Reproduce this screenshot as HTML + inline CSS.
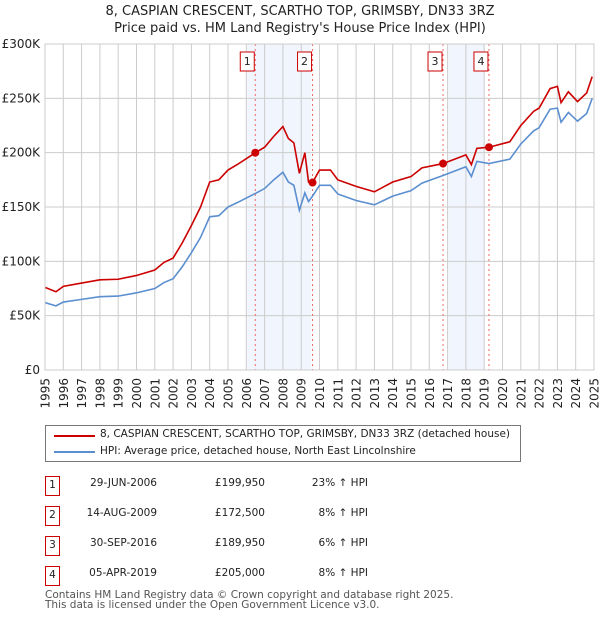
<!DOCTYPE html>
<html><head><meta charset="utf-8"><style>
body{margin:0;width:600px;height:620px;background:#fff;font-family:"DejaVu Sans","Liberation Sans",sans-serif;color:#222;position:relative;overflow:hidden}
.t{position:absolute;left:0;width:600px;text-align:center;font-size:13px}
.leg{position:absolute;left:45px;top:425px;width:474px;height:35px;border:1px solid #777;font-size:10.5px;white-space:nowrap}
.row{position:absolute;font-size:10.5px;text-align:right;width:120px}
.num{position:absolute;left:45px;width:13px;height:18px;border:1px solid #c00;text-align:center;line-height:17px;font-size:10.5px}
.foot{position:absolute;left:45px;font-size:10.5px;color:#555;line-height:10px;white-space:nowrap}
</style></head><body>
<div class="t" style="top:4px">8, CASPIAN CRESCENT, SCARTHO TOP, GRIMSBY, DN33 3RZ</div>
<div class="t" style="top:21px">Price paid vs. HM Land Registry's House Price Index (HPI)</div>
<svg id="chart" width="600" height="420" style="position:absolute;left:0;top:0"></svg>
<div class="leg">
<svg width="50" height="36" style="position:absolute;left:6px;top:0"><line x1="2" y1="10" x2="43" y2="10" stroke="#cc0000" stroke-width="2"/><line x1="2" y1="26" x2="43" y2="26" stroke="#5b8fd0" stroke-width="2"/></svg>
<div style="position:absolute;left:54px;top:2px">8, CASPIAN CRESCENT, SCARTHO TOP, GRIMSBY, DN33 3RZ (detached house)</div>
<div style="position:absolute;left:54px;top:19px">HPI: Average price, detached house, North East Lincolnshire</div>
</div>
<div id="tbl"></div>
<div class="foot" style="top:590px">Contains HM Land Registry data © Crown copyright and database right 2025.</div>
<div class="foot" style="top:600px">This data is licensed under the Open Government Licence v3.0.</div>
<script>
const years=[1995.0,1995.6,1996,1997,1998,1999,2000,2001,2001.5,2002,2002.5,2003,2003.5,2004,2004.5,2005,2005.5,2006.5,2007,2007.5,2008,2008.3,2008.6,2008.9,2009.2,2009.4,2009.62,2010,2010.6,2011,2012,2013,2014,2015,2015.6,2016.75,2018,2018.3,2018.6,2019.26,2020.4,2021,2021.7,2022,2022.6,2023,2023.2,2023.6,2024.1,2024.6,2024.9];
const priceSeries=[76,72,77,80,83,83.5,87,92,99,103,117,133,150,173,175,184,189,199.95,205,215,224,213,209,181,200,173,172.5,184,184,175,169,164,173,178,186,189.95,198,189,204,205,210,225,238,241,259,261,246,256,247,255,270];
const hpiSeries=[62,59,62.5,65,67.5,68,71,75,80.5,84,95,108,122,141,142,150,154,162.5,167,175,182,173,170,147,163,155,160,170,170,162,156,152,160,165,172,179,187,178,192,190,194,208,220,223,240,241,228,237,229,236,250];
const saleYears=[2006.49,2009.62,2016.75,2019.26];
const saleValues=[199.95,172.5,189.95,205];
const saleLabels=["1","2","3","4"];
const saleDates=["29-JUN-2006","14-AUG-2009","30-SEP-2016","05-APR-2019"];
const salePrices=["£199,950","£172,500","£189,950","£205,000"];
const saleDiffs=["23% ↑ HPI","8% ↑ HPI","6% ↑ HPI","8% ↑ HPI"];
const yTicks=[0,50,100,150,200,250,300];
const yTickLabels=["£0","£50K","£100K","£150K","£200K","£250K","£300K"];
const bands=[[2006.05,2009.55],[2017.05,2019.0]];
const NS="http://www.w3.org/2000/svg";
const X0=45,X1=594,Y0=370,Y1=44;
const xs=y=>X0+(y-1995)/30*(X1-X0);
const ys=v=>Y0-v/300*(Y0-Y1);
const svg=document.getElementById('chart');
function mk(t,a){const e=document.createElementNS(NS,t);for(const k in a)e.setAttribute(k,a[k]);svg.appendChild(e);return e;}
bands.forEach(b=>{const r=mk('rect',{x:xs(b[0]),y:Y1,width:xs(b[1])-xs(b[0]),height:Y0-Y1,fill:'#eef3fc',opacity:0.8});

});
for(let yr=1995;yr<=2025;yr++){const l=mk('line',{x1:xs(yr),x2:xs(yr),y1:Y1,y2:Y0,stroke:'#ccc'});


const t=mk('text',{x:0,y:0,'text-anchor':'end','font-size':12,fill:'#222',transform:'translate('+(xs(yr)+4.5)+',378) rotate(-90)'});t.textContent=yr;

}
yTicks.forEach((v,i)=>{const l=mk('line',{x1:X0,x2:X1,y1:ys(v),y2:ys(v),stroke:'#ccc'});


const t=mk('text',{x:40,y:ys(v)+4,'text-anchor':'end','font-size':12,fill:'#222'});t.textContent=yTickLabels[i];

});
saleYears.forEach((s,i)=>{const l=mk('line',{x1:xs(s),x2:xs(s),y1:Y1,y2:Y0,stroke:'#e66','stroke-dasharray':'2,3'});


const r=mk('rect',{x:xs(s)-15,y:52,width:14,height:19,fill:'#fff',stroke:'#c00'});


const t=mk('text',{x:xs(s)-8,y:65,'text-anchor':'middle','font-size':11,fill:'#222'});t.textContent=saleLabels[i];

});
const pts=a=>a.map((v,i)=>xs(years[i])+','+ys(v)).join(' ');
const hl=mk('polyline',{points:pts(hpiSeries),fill:'none',stroke:'#5b8fd0','stroke-width':1.6});


const pl=mk('polyline',{points:pts(priceSeries),fill:'none',stroke:'#cc0000','stroke-width':1.6});


saleYears.forEach((s,i)=>{const c=mk('circle',{cx:xs(s),cy:ys(saleValues[i]),r:4,fill:'#cc0000'});

});
mk('rect',{x:X0,y:Y1,width:X1-X0,height:Y0-Y1,fill:'none',stroke:'#ccc'});
const tbl=document.getElementById('tbl');
const rowY=[476,506,536,566];
rowY.forEach((y,i)=>{
const n=document.createElement('div');n.className='num';n.style.top=y+'px';n.textContent=saleLabels[i];

tbl.appendChild(n);
[[37,saleDates[i]],[145,salePrices[i]],[248,saleDiffs[i]]].forEach(([x,txt])=>{const d=document.createElement('div');d.className='row';d.style.left=x+'px';d.style.top=(y+1)+'px';d.textContent=txt;

tbl.appendChild(d);});
});
</script>
</body></html>
